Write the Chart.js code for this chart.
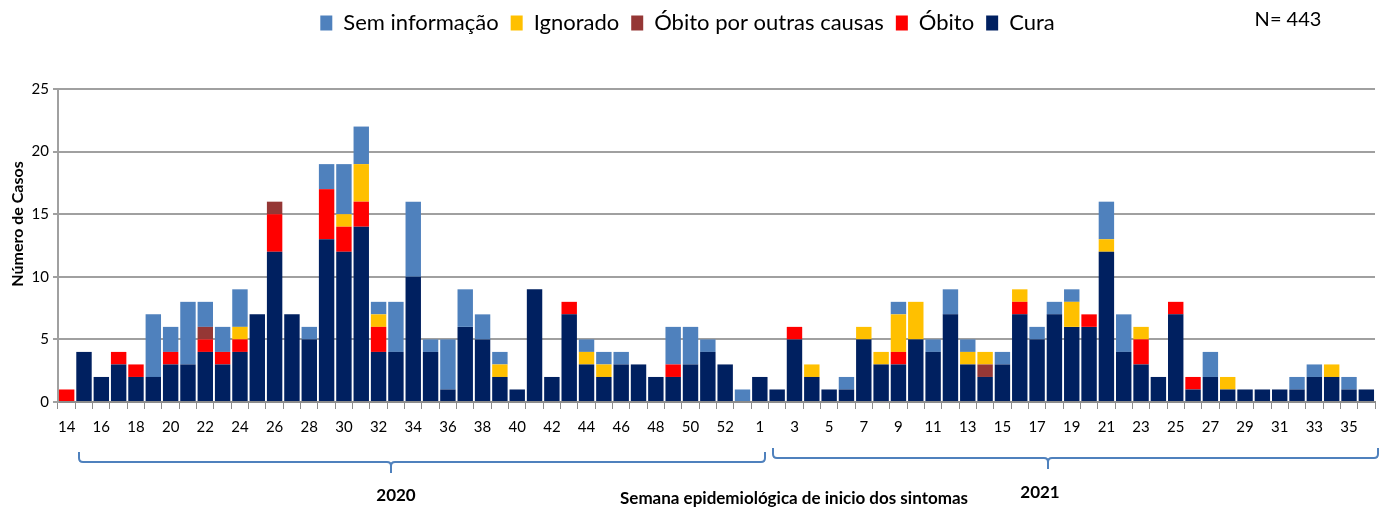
<!DOCTYPE html>
<html>
<head>
<meta charset="utf-8">
<script src="https://cdn.jsdelivr.net/npm/chart.js@4.4.0/dist/chart.umd.min.js"></script>
<style>
  html, body { margin: 0; padding: 0; background: #fff; }
  #wrap { position: relative; width: 1387px; height: 510px; }
</style>
</head>
<body>
<div id="wrap"><canvas id="chart" width="1387" height="510"></canvas></div>
<script>
// semanas epidemiologicas: 2020 (14 a 53) e 2021 (1 a 36)
const weeks = [
  "14","15","16","17","18","19","20","21","22","23",
  "24","25","26","27","28","29","30","31","32","33",
  "34","35","36","37","38","39","40","41","42","43",
  "44","45","46","47","48","49","50","51","52","53",
  "1","2","3","4","5","6","7","8","9","10",
  "11","12","13","14","15","16","17","18","19","20",
  "21","22","23","24","25","26","27","28","29","30",
  "31","32","33","34","35","36"
];

const cura = [
  0,4,2,3,2,2,3,3,4,3,
  4,7,12,7,5,13,12,14,4,4,
  10,4,1,6,5,2,1,9,2,7,
  3,2,3,3,2,2,3,4,3,0,
  2,1,5,2,1,1,5,3,3,5,
  4,7,3,2,3,7,5,7,6,6,
  12,4,3,2,7,1,2,1,1,1,
  1,1,2,2,1,1
];
const obito = [
  1,0,0,1,1,0,1,0,1,1,
  1,0,3,0,0,4,2,2,2,0,
  0,0,0,0,0,0,0,0,0,1,
  0,0,0,0,0,1,0,0,0,0,
  0,0,1,0,0,0,0,0,1,0,
  0,0,0,0,0,1,0,0,0,1,
  0,0,2,0,1,1,0,0,0,0,
  0,0,0,0,0,0
];
const outrasCausas = [
  0,0,0,0,0,0,0,0,1,0,
  0,0,1,0,0,0,0,0,0,0,
  0,0,0,0,0,0,0,0,0,0,
  0,0,0,0,0,0,0,0,0,0,
  0,0,0,0,0,0,0,0,0,0,
  0,0,0,1,0,0,0,0,0,0,
  0,0,0,0,0,0,0,0,0,0,
  0,0,0,0,0,0
];
const ignorado = [
  0,0,0,0,0,0,0,0,0,0,
  1,0,0,0,0,0,1,3,1,0,
  0,0,0,0,0,1,0,0,0,0,
  1,1,0,0,0,0,0,0,0,0,
  0,0,0,1,0,0,1,1,3,3,
  0,0,1,1,0,1,0,0,2,0,
  1,0,1,0,0,0,0,1,0,0,
  0,0,0,1,0,0
];
const semInfo = [
  0,0,0,0,0,5,2,5,2,2,
  3,0,0,0,1,2,4,3,1,4,
  6,1,4,3,2,1,0,0,0,0,
  1,1,1,0,0,3,3,1,0,1,
  0,0,0,0,0,1,0,0,1,0,
  1,2,1,0,1,0,1,1,1,0,
  3,3,0,0,0,0,2,0,0,0,
  0,1,1,0,1,0
];

const FONT = "Lato, 'Open Sans', sans-serif";

// legenda um pouco mais alta para empurrar a area do grafico
const legendHeight = {
  id: "legendHeight",
  beforeInit(chart) {
    const fit = chart.legend.fit;
    chart.legend.fit = function () {
      fit.bind(chart.legend)();
      this.height = 89;
    };
  }
};

function brace(ctx, x1, x2, xm, yTop, yLine, yTip) {
  const r = 4;
  ctx.beginPath();
  ctx.moveTo(x1, yTop);
  ctx.lineTo(x1, yLine - r);
  ctx.quadraticCurveTo(x1, yLine, x1 + r, yLine);
  ctx.lineTo(xm - r, yLine);
  ctx.quadraticCurveTo(xm, yLine, xm, yLine + r);
  ctx.lineTo(xm, yTip);
  ctx.moveTo(xm, yLine + r);
  ctx.quadraticCurveTo(xm, yLine, xm + r, yLine);
  ctx.lineTo(x2 - r, yLine);
  ctx.quadraticCurveTo(x2, yLine, x2, yLine - r);
  ctx.lineTo(x2, yTop);
  ctx.stroke();
}

const extras = {
  id: "extras",
  afterDraw(chart) {
    const ctx = chart.ctx;
    ctx.save();
    ctx.fillStyle = "#000";
    ctx.textAlign = "center";
    ctx.textBaseline = "middle";

    ctx.font = "20px " + FONT;
    ctx.fillText("N= 443", 1288, 20);

    ctx.save();
    ctx.translate(18, 224);
    ctx.rotate(-Math.PI / 2);
    ctx.font = "bold 16px " + FONT;
    ctx.fillText("Número de Casos", 0, 0);
    ctx.restore();

    ctx.strokeStyle = "#4F81BD";
    ctx.lineWidth = 2;
    brace(ctx, 79, 765, 391, 452, 462, 473);
    brace(ctx, 773, 1378, 1048, 448, 458, 469);

    ctx.font = "bold 17px " + FONT;
    ctx.fillText("2020", 396, 496);
    ctx.fillText("2021", 1040, 493);
    ctx.fillText("Semana epidemiológica de inicio dos sintomas", 794, 499);
    ctx.restore();
  }
};

const ctx = document.getElementById("chart").getContext("2d");
new Chart(ctx, {
  type: "bar",
  data: {
    labels: weeks,
    datasets: [
      { label: "Cura", data: cura, backgroundColor: "#002060" },
      { label: "Óbito", data: obito, backgroundColor: "#FF0000" },
      { label: "Óbito por outras causas", data: outrasCausas, backgroundColor: "#953735" },
      { label: "Ignorado", data: ignorado, backgroundColor: "#FFC000" },
      { label: "Sem informação", data: semInfo, backgroundColor: "#4F81BD" }
    ]
  },
  options: {
    responsive: false,
    animation: false,
    devicePixelRatio: 1,
    layout: { padding: { left: 0, right: 12, top: 0, bottom: 0 } },
    datasets: {
      bar: { barPercentage: 0.89, categoryPercentage: 1.0, borderWidth: 0 }
    },
    plugins: {
      legend: {
        position: "top",
        reverse: true,
        labels: {
          boxWidth: 12,
          boxHeight: 15,
          padding: 12,
          color: "#000",
          font: { family: FONT, size: 22 }
        }
      },
      tooltip: { enabled: false }
    },
    scales: {
      x: {
        stacked: true,
        afterFit: (s) => { s.height = 108; },
        grid: {
          offset: true,
          drawOnChartArea: false,
          drawTicks: true,
          tickLength: 7,
          color: "#8c8c8c",
          lineWidth: 1
        },
        border: { color: "#8c8c8c", width: 2 },
        ticks: {
          autoSkip: false,
          maxRotation: 0,
          padding: 9,
          color: "#000",
          font: { family: FONT, size: 15 },
          callback: function (val, i) {
            return i % 2 === 0 ? this.getLabelForValue(val) : "";
          }
        }
      },
      y: {
        stacked: true,
        min: 0,
        max: 25,
        afterFit: (s) => { s.width = 58; },
        grid: {
          color: "#a0a0a0",
          lineWidth: 2,
          drawTicks: true,
          tickLength: 5
        },
        border: { color: "#a0a0a0", width: 2 },
        ticks: {
          stepSize: 5,
          padding: 4,
          color: "#000",
          font: { family: FONT, size: 15 }
        }
      }
    }
  },
  plugins: [legendHeight, extras]
});
</script>
</body>
</html>
